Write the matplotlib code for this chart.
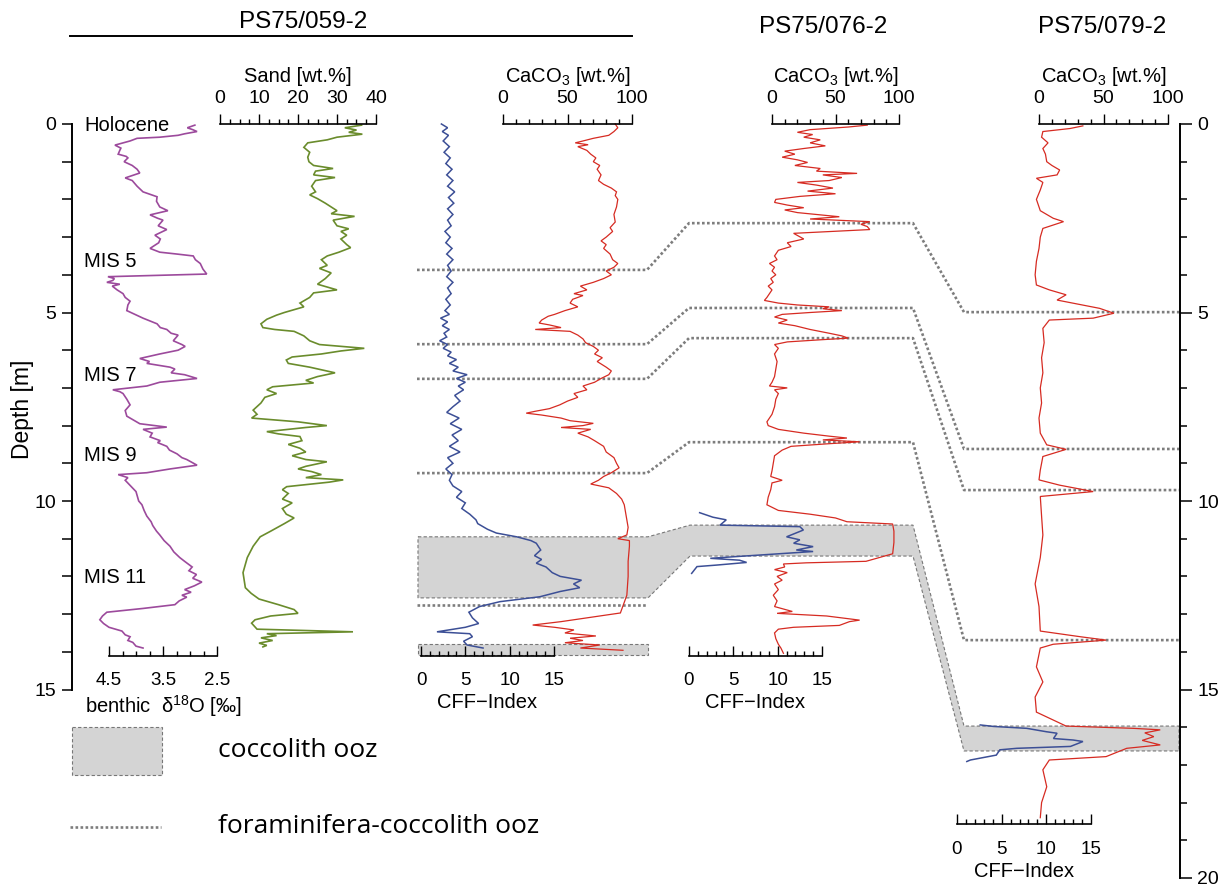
import matplotlib.pyplot as plt
from matplotlib.transforms import Affine2D

# PS75/059-2 benthic d18O (depth m, permil)
d18o = [(0.03, 2.91), (0.1, 3.05), (0.15, 2.95), (0.2, 2.87), (0.26, 3.1), (0.3, 3.22), (0.35, 3.56),
        (0.38, 3.98), (0.45, 4.11), (0.56, 4.39), (0.64, 4.28), (0.7, 4.3), (0.8, 4.33), (0.86, 4.18),
        (0.9, 4.15), (1.0, 4.22), (1.1, 4.07), (1.2, 3.98), (1.3, 3.93), (1.38, 4.1), (1.43, 4.2),
        (1.5, 4.07), (1.65, 3.98), (1.8, 3.87), (1.93, 3.61), (2.05, 3.62), (2.2, 3.56), (2.3, 3.41),
        (2.41, 3.74), (2.5, 3.6), (2.55, 3.5), (2.7, 3.59), (2.8, 3.43), (2.95, 3.65), (3.05, 3.55),
        (3.15, 3.58), (3.3, 3.74), (3.4, 3.56), (3.45, 3.24), (3.5, 2.94), (3.6, 2.9), (3.7, 2.81),
        (3.85, 2.76), (3.98, 2.69), (4.05, 4.52), (4.1, 4.4), (4.15, 4.43), (4.2, 4.54), (4.25, 4.3),
        (4.3, 4.44), (4.4, 4.35), (4.5, 4.24), (4.6, 4.2), (4.7, 4.11), (4.8, 4.15), (4.95, 4.17),
        (5.05, 4.02), (5.15, 3.87), (5.3, 3.61), (5.4, 3.55), (5.45, 3.43), (5.55, 3.35), (5.6, 3.22),
        (5.7, 3.28), (5.75, 3.31), (5.85, 3.15), (5.9, 3.09), (6.0, 3.22), (6.1, 3.56), (6.22, 3.93),
        (6.3, 3.75), (6.35, 3.8), (6.45, 3.37), (6.5, 3.28), (6.6, 3.35), (6.65, 3.1), (6.75, 2.87),
        (6.85, 3.56), (6.95, 3.8), (7.05, 4.43), (7.1, 4.3), (7.15, 4.24), (7.3, 4.17), (7.45, 4.11),
        (7.6, 4.2), (7.75, 4.17), (7.95, 3.93), (8.04, 3.43), (8.1, 3.87), (8.2, 3.7), (8.3, 3.74),
        (8.4, 3.55), (8.45, 3.6), (8.55, 3.43), (8.65, 3.38), (8.75, 3.24), (8.85, 3.15), (8.9, 3.06),
        (9.05, 2.87), (9.15, 3.37), (9.25, 3.8), (9.3, 4.33), (9.38, 4.15), (9.45, 4.2), (9.6, 4.1),
        (9.75, 4.0), (9.85, 3.98), (10.0, 3.95), (10.1, 3.89), (10.25, 3.85), (10.4, 3.8), (10.55, 3.72),
        (10.65, 3.69), (10.8, 3.62), (10.9, 3.56), (11.05, 3.48), (11.2, 3.37), (11.35, 3.3), (11.5, 3.19),
        (11.6, 3.1), (11.75, 2.96), (11.85, 3.02), (11.95, 2.88), (12.05, 2.95), (12.15, 2.78), (12.25, 2.92),
        (12.35, 3.1), (12.42, 2.98), (12.5, 3.15), (12.55, 3.06), (12.65, 3.2), (12.75, 3.28), (12.85, 3.87),
        (12.95, 4.54), (13.05, 4.62), (13.15, 4.67), (13.25, 4.6), (13.35, 4.5), (13.45, 4.26), (13.55, 4.2),
        (13.6, 4.11), (13.7, 4.15), (13.75, 4.06), (13.85, 4.0), (13.9, 3.87)]

# PS75/059-2 sand content (depth m, wt.%)
sand = [(0.03, 36.3), (0.1, 32), (0.16, 35), (0.22, 33), (0.27, 36.5), (0.35, 30), (0.42, 27.5), (0.5, 22.5),
        (0.62, 21.5), (0.75, 23), (0.88, 22.5), (1.0, 22.8), (1.1, 24), (1.18, 29), (1.25, 24.5), (1.35, 24),
        (1.42, 29.5), (1.5, 24.5), (1.65, 23.5), (1.8, 24.5), (1.88, 23), (1.98, 25), (2.1, 27), (2.2, 28.5),
        (2.3, 30), (2.38, 28.5), (2.45, 34.5), (2.55, 29), (2.7, 30), (2.78, 33), (2.85, 31), (2.95, 32.5),
        (3.05, 31), (3.2, 32.5), (3.28, 33.5), (3.4, 30.5), (3.5, 27.5), (3.6, 26), (3.75, 27.5), (3.83, 25.5),
        (3.95, 28.5), (4.1, 27), (4.25, 25), (4.4, 30), (4.48, 24), (4.6, 23), (4.75, 20.5), (4.85, 21.5),
        (5.0, 16.5), (5.07, 14.5), (5.18, 12), (5.3, 10.5), (5.4, 11), (5.45, 14), (5.5, 19), (5.62, 21.5),
        (5.75, 23), (5.85, 25.5), (5.95, 37), (6.02, 31), (6.1, 26), (6.18, 18.5), (6.26, 17), (6.35, 17.5),
        (6.45, 23), (6.6, 29.5), (6.7, 25), (6.8, 22), (6.87, 24), (6.97, 13.5), (7.05, 12), (7.15, 14.5),
        (7.25, 11.5), (7.4, 10.5), (7.59, 8.5), (7.7, 9.5), (7.8, 8.1), (7.9, 20), (8.0, 27.4), (8.05, 22),
        (8.16, 12), (8.22, 15), (8.29, 20.5), (8.4, 21), (8.5, 17.5), (8.6, 20.5), (8.7, 22), (8.8, 18.5),
        (8.9, 22), (8.96, 27.4), (9.08, 22), (9.15, 20), (9.22, 23.5), (9.3, 26), (9.38, 22), (9.44, 31.6),
        (9.5, 28), (9.62, 17.1), (9.7, 16), (9.8, 17.5), (9.95, 16), (10.05, 18.5), (10.2, 16), (10.35, 17),
        (10.45, 19), (10.6, 16.5), (10.8, 13), (10.95, 10.3), (11.2, 8.5), (11.5, 7), (11.9, 5.9), (12.1, 6.2),
        (12.3, 6.5), (12.45, 8), (12.6, 10), (12.75, 15), (12.88, 19), (12.98, 20), (13.05, 13), (13.15, 9),
        (13.24, 8.1), (13.4, 9.5), (13.47, 34.1), (13.52, 12), (13.57, 14.5), (13.63, 10.5), (13.7, 13.5),
        (13.77, 10), (13.83, 12), (13.87, 11)]

# PS75/059-2 CFF-Index
cff_059 = [(0.0, 2.3), (0.1, 3.0), (0.2, 2.4), (0.3, 3.1), (0.45, 2.5), (0.6, 3.2), (0.75, 2.6), (0.9, 3.3),
           (1.05, 2.8), (1.2, 3.5), (1.35, 2.9), (1.5, 3.6), (1.65, 3.0), (1.8, 3.8), (1.95, 3.1), (2.1, 3.7),
           (2.25, 3.0), (2.4, 3.6), (2.55, 3.0), (2.7, 3.4), (2.85, 2.7), (3.0, 3.3), (3.15, 2.8), (3.3, 3.5),
           (3.45, 2.9), (3.6, 3.6), (3.75, 3.0), (3.9, 3.4), (4.05, 2.9), (4.2, 3.6), (4.35, 3.0), (4.5, 3.4),
           (4.65, 2.8), (4.8, 3.3), (4.95, 2.7), (5.05, 3.2), (5.15, 2.2), (5.25, 3.0), (5.35, 2.4), (5.45, 3.2),
           (5.55, 2.6), (5.65, 2.9), (5.75, 2.1), (5.85, 3.0), (5.95, 2.5), (6.05, 3.4), (6.15, 3.0), (6.25, 4.0),
           (6.35, 3.2), (6.45, 4.2), (6.55, 3.6), (6.65, 5.2), (6.75, 4.0), (6.85, 5.0), (6.95, 4.2), (7.05, 4.8),
           (7.2, 3.8), (7.35, 4.4), (7.5, 3.6), (7.65, 2.9), (7.8, 4.3), (7.95, 3.3), (8.1, 4.6), (8.25, 3.5),
           (8.4, 4.2), (8.55, 3.2), (8.7, 4.4), (8.85, 3.0), (9.0, 3.6), (9.15, 2.8), (9.3, 3.5), (9.45, 3.2),
           (9.6, 3.6), (9.75, 4.6), (9.9, 4.0), (10.05, 5.0), (10.2, 4.6), (10.35, 5.5), (10.5, 6.2), (10.6, 6.4),
           (10.75, 7.5), (10.85, 8.5), (10.95, 10.8), (11.05, 12.4), (11.12, 13.0), (11.3, 13.5), (11.45, 12.8),
           (11.55, 13.6), (11.65, 13.0), (11.75, 14.1), (11.9, 14.8), (12.0, 15.7), (12.1, 18.1), (12.2, 17.2),
           (12.3, 17.9), (12.4, 15.7), (12.54, 13.4), (12.67, 8.9), (12.8, 6.6), (12.95, 5.4), (13.1, 5.8),
           (13.25, 6.5), (13.35, 5.0), (13.47, 1.8), (13.52, 5.5), (13.6, 5.8), (13.72, 4.8), (13.82, 5.2),
           (13.9, 7.0)]

# PS75/059-2 CaCO3 (wt.%)
caco3_059 = [(0.0, 87), (0.1, 89), (0.2, 86), (0.3, 82), (0.38, 70), (0.45, 62), (0.5, 56), (0.55, 66),
             (0.6, 58), (0.7, 65), (0.8, 68), (0.9, 72), (1.0, 70), (1.1, 75), (1.2, 73), (1.35, 76),
             (1.5, 74), (1.6, 78), (1.7, 84), (1.8, 88), (1.9, 87), (2.0, 89), (2.2, 88), (2.4, 86),
             (2.6, 87), (2.75, 83), (2.85, 85), (3.0, 80), (3.1, 76), (3.2, 80), (3.3, 78), (3.45, 83),
             (3.6, 85), (3.7, 89), (3.8, 86), (3.9, 80), (4.0, 84), (4.1, 78), (4.2, 70), (4.3, 60),
             (4.4, 65), (4.5, 55), (4.55, 62), (4.65, 54), (4.75, 52), (4.85, 58), (4.95, 48), (5.05, 40),
             (5.1, 35), (5.2, 30), (5.28, 28), (5.33, 36), (5.4, 45), (5.45, 25), (5.5, 52), (5.6, 58),
             (5.7, 62), (5.8, 64), (5.9, 70), (6.0, 74), (6.1, 71), (6.2, 77), (6.3, 73), (6.45, 80),
             (6.55, 84), (6.65, 82), (6.75, 76), (6.85, 71), (6.95, 62), (7.05, 65), (7.15, 55), (7.25, 58),
             (7.35, 50), (7.45, 44), (7.55, 36), (7.62, 25), (7.67, 18), (7.72, 30), (7.8, 45), (7.87, 52),
             (7.94, 70), (8.0, 62), (8.05, 45), (8.1, 68), (8.2, 58), (8.3, 66), (8.4, 71), (8.55, 78),
             (8.7, 80), (8.85, 86), (9.0, 88), (9.12, 90), (9.25, 84), (9.35, 78), (9.45, 74), (9.55, 68),
             (9.65, 82), (9.8, 88), (9.95, 92), (10.1, 94), (10.3, 95), (10.5, 96), (10.7, 97), (10.9, 96),
             (11.0, 89), (11.05, 98), (11.2, 98), (11.6, 97), (12.0, 97), (12.5, 96), (12.97, 91), (13.1, 65),
             (13.2, 45), (13.29, 23), (13.35, 40), (13.42, 55), (13.5, 48), (13.58, 72), (13.64, 52),
             (13.7, 62), (13.76, 48), (13.82, 75), (13.9, 60), (13.96, 93)]

# PS75/076-2 CaCO3 (wt.%) and CFF-Index
caco3_076 = [(0.03, 75), (0.08, 60), (0.15, 30), (0.22, 20), (0.28, 32), (0.35, 25), (0.42, 38), (0.5, 30),
             (0.58, 42), (0.65, 25), (0.72, 10), (0.8, 18), (0.88, 8), (0.95, 20), (1.02, 28), (1.1, 18),
             (1.18, 38), (1.25, 35), (1.31, 67), (1.35, 40), (1.42, 55), (1.5, 45), (1.55, 20), (1.62, 35),
             (1.7, 48), (1.78, 28), (1.85, 50), (1.92, 22), (2.0, 3), (2.08, 2), (2.15, 12), (2.22, 25),
             (2.28, 10), (2.35, 20), (2.46, 53), (2.52, 30), (2.59, 77), (2.66, 70), (2.72, 75), (2.8, 77),
             (2.86, 40), (2.9, 17), (3.05, 25), (3.15, 12), (3.25, 15), (3.35, 5), (3.5, 2), (3.6, 4),
             (3.7, -2), (3.8, 2), (3.9, 0), (4.0, 3), (4.1, -1), (4.2, 1), (4.3, -3), (4.4, 0), (4.5, -2),
             (4.6, -4), (4.68, -6), (4.75, 5), (4.8, 20), (4.85, 45), (4.9, 40), (4.95, 55), (5.0, 30),
             (5.05, 8), (5.12, 2), (5.2, 12), (5.28, 5), (5.35, 18), (5.45, 30), (5.55, 45), (5.62, 55),
             (5.68, 60), (5.72, 40), (5.78, 12), (5.85, 2), (5.95, 5), (6.1, 2), (6.3, 4), (6.5, 3), (6.7, 2),
             (6.85, 0), (6.95, -2), (7.0, 12), (7.05, 2), (7.15, 5), (7.3, 3), (7.5, 2), (7.7, 0), (7.9, -4),
             (8.0, -3), (8.1, 5), (8.2, 25), (8.28, 45), (8.33, 59), (8.38, 40), (8.43, 69), (8.48, 45),
             (8.55, 15), (8.65, 8), (8.8, 2), (9.0, 1), (9.2, 0), (9.35, -1), (9.45, 8), (9.52, 0),
             (9.7, -1), (9.9, -3), (10.1, -4), (10.25, 5), (10.35, 30), (10.45, 50), (10.55, 59), (10.61, 95),
             (10.8, 96), (11.1, 96), (11.4, 95), (11.6, 74), (11.64, 27), (11.67, 9), (11.75, 10), (11.82, 2),
             (11.9, 12), (12.0, 4), (12.1, 8), (12.2, 2), (12.35, 5), (12.5, 1), (12.65, 4), (12.8, 2),
             (12.93, 16), (12.98, 4), (13.05, 43), (13.16, 69), (13.2, 61), (13.3, 53), (13.35, 17), (13.4, 5),
             (13.5, 2), (13.65, 3), (13.8, 5), (13.9, 7), (14.04, 9)]
cff_076 = [(10.31, 1.2), (10.43, 2.7), (10.5, 4.2), (10.64, 3.5), (10.68, 12.5), (10.77, 12.9), (10.95, 11.0),
           (11.03, 12.5), (11.12, 11.8), (11.21, 14.0), (11.3, 12.1), (11.34, 14.0), (11.52, 2.4), (11.57, 5.7),
           (11.63, 6.5), (11.7, 3.1), (11.74, 0.9), (11.92, 0.3)]

# PS75/079-2 CaCO3 (wt.%) and CFF-Index
caco3_079 = [(0.05, 34), (0.12, 24), (0.2, 3), (0.35, 2), (0.5, 7), (0.65, 3), (0.8, 5), (1.0, 6),
             (1.1, 10), (1.22, 16), (1.35, 14), (1.44, -2), (1.55, 3), (1.75, 1), (2.0, -2), (2.3, 1),
             (2.5, 11), (2.59, 19), (2.77, 3), (3.0, 1), (3.3, 0), (3.64, -2), (4.0, -3), (4.27, -2),
             (4.4, 8), (4.53, 21), (4.67, 14), (4.75, 26), (4.89, 47), (5.02, 58), (5.15, 42), (5.2, 8),
             (5.42, 3), (5.8, 4), (6.2, 2), (6.6, 3), (7.0, 1), (7.4, 2), (7.8, 0), (8.2, 1), (8.51, 6),
             (8.63, 21), (8.82, 3), (9.18, 1), (9.44, 0), (9.58, 16), (9.75, 42), (9.88, 1), (10.4, 2),
             (10.9, 3), (11.5, 1), (12.2, -3), (12.8, 0), (13.45, 1), (13.6, 32), (13.69, 52), (13.8, 11),
             (13.9, 1), (14.4, -2), (14.8, 3), (15.2, -3), (15.6, -2), (15.97, 21), (16.03, 73), (16.07, 94),
             (16.15, 82), (16.25, 89), (16.35, 80), (16.47, 94), (16.56, 68), (16.78, 52), (16.87, 8),
             (17.13, 3), (17.58, 6), (18.0, 2), (18.4, 1)]
cff_079 = [(15.94, 2.6), (15.98, 4.1), (16.03, 7.8), (16.12, 10.0), (16.16, 11.2), (16.3, 10.8), (16.34, 13.0),
           (16.38, 14.1), (16.51, 12.7), (16.56, 6.7), (16.6, 4.8), (16.74, 4.4), (16.87, 1.5), (16.91, 1.1)]

# coccolith ooz intervals (top, bottom) in m
cocco_059 = [(10.95, 12.57), (13.80, 14.08)]
cocco_076 = (10.64, 11.46)
cocco_079 = (15.97, 16.63)

# foraminifera-coccolith ooz layers, correlated between the cores (m)
foram_059 = [3.87, 5.84, 6.76, 9.26, 12.76]
foram_076 = [2.63, 4.88, 5.68, 8.44]
foram_079 = [4.99, 8.62, 9.71, 13.69]

stages = [("Holocene", 0.03), ("MIS 5", 3.66), ("MIS 7", 6.68), ("MIS 9", 8.78), ("MIS 11", 12.04)]

PURPLE, GREEN, BLUE, RED = "#9c4a9c", "#6a8c2c", "#3c4f96", "#d62b22"
OOZ_FILL, OOZ_EDGE, TIE = "#d4d4d4", "#777777", "#7d7d7d"

plt.rcParams["font.family"] = "Liberation Sans"
plt.rcParams["mathtext.fontset"] = "custom"
plt.rcParams["mathtext.rm"] = "Liberation Sans"
plt.rcParams["mathtext.it"] = "Liberation Sans:italic"
plt.rcParams["mathtext.bf"] = "Liberation Sans:bold"

W, H = 1227, 886
TOP, BOT = 124, 878          # pixel rows of 0 m and 20 m
fig = plt.figure(figsize=(W / 100, H / 100), dpi=100)
pix = Affine2D().scale(1 / W, -1 / H).translate(0, 1) + fig.transFigure


def strip(x0, x1):
    ax = fig.add_axes([x0 / W, 1 - BOT / H, (x1 - x0) / W, (BOT - TOP) / H])
    ax.set_ylim(20, 0)
    ax.patch.set_visible(False)
    for s in ax.spines.values():
        s.set_visible(False)
    return ax


def panel(x0, x1, lim, side, depth, major, minor, label, labelpad):
    ax = strip(x0, x1)
    ax.set_xlim(*lim)
    ax.set_yticks([])
    sp = ax.spines[side]
    sp.set_visible(True)
    sp.set_position(("data", depth))
    sp.set_bounds(min(lim), max(lim))
    sp.set_linewidth(1.2)
    ax.xaxis.set_ticks_position(side)
    ax.xaxis.set_label_position(side)
    ax.set_xticks(major)
    ax.set_xticks(minor, minor=True)
    if side == "top":
        ax.tick_params(axis="x", which="major", direction="out", length=7, width=1, labelsize=14, pad=5)
        ax.tick_params(axis="x", which="minor", direction="out", length=3.5, width=1)
    else:
        ax.tick_params(axis="x", which="major", direction="in", length=7, width=1, labelsize=13.5, pad=12)
        ax.tick_params(axis="x", which="minor", direction="in", length=3.5, width=1)
    ax.set_xlabel(label, fontsize=14.5, labelpad=labelpad)
    return ax


def curve(ax, series, color, lw):
    d = [p[0] for p in series]
    v = [p[1] for p in series]
    ax.plot(v, d, color=color, lw=lw, clip_on=False, solid_joinstyle="miter")


# background strip for ooz intervals and tie lines, x in pixel columns
base = strip(0, W)
base.set_xlim(0, W)
base.set_xticks([])
base.set_yticks([])

xs = [418, 648, 690, 913, 964, 1179]
band_top = [cocco_059[0][0], cocco_059[0][0], cocco_076[0], cocco_076[0], cocco_079[0], cocco_079[0]]
band_bot = [cocco_059[0][1], cocco_059[0][1], cocco_076[1], cocco_076[1], cocco_079[1], cocco_079[1]]
base.fill(xs + xs[::-1], band_top + band_bot[::-1], fc=OOZ_FILL, ec=OOZ_EDGE, lw=0.8, ls=(0, (3, 2)))
t, b = cocco_059[1]
base.fill([418, 648, 648, 418], [t, t, b, b], fc=OOZ_FILL, ec=OOZ_EDGE, lw=0.8, ls=(0, (3, 2)))

tie_x = [417, 647, 689, 913, 964, 1179]
for a, m, c in zip(foram_059, foram_076, foram_079):
    base.plot(tie_x, [a, a, m, m, c, c], color=TIE, lw=1.9, ls=(0, (1, 0.9)))
base.plot(tie_x[:2], [foram_059[4]] * 2, color=TIE, lw=1.9, ls=(0, (1, 0.9)))

for name, d in stages:
    base.text(84, d, name, fontsize=14.5, va="center", ha="left")

# depth axes
left = strip(72, 73)
left.set_xticks([])
left.spines["left"].set_visible(True)
left.spines["left"].set_bounds(0, 15)
left.spines["left"].set_linewidth(1.4)
left.set_yticks([0, 5, 10, 15])
left.set_yticks(range(16), minor=True)
left.tick_params(axis="y", which="both", length=7.5, width=1.1, labelsize=14, pad=4)
fig.text(22, 409, "Depth [m]", transform=pix, fontsize=16.5, rotation=90, ha="center", va="center")

right = strip(1179, 1180)
right.set_xticks([])
right.spines["right"].set_visible(True)
right.spines["right"].set_bounds(0, 20)
right.spines["right"].set_linewidth(1.4)
right.yaxis.set_ticks_position("right")
right.set_yticks([0, 5, 10, 15, 20])
right.set_yticks(range(21), minor=True)
right.tick_params(axis="y", which="major", length=8.5, width=1.1, labelsize=14, pad=4)
right.tick_params(axis="y", which="minor", length=5, width=1.1)

# PS75/059-2
ax = panel(109, 217, (4.5, 2.5), "bottom", 14.1, [4.5, 3.5, 2.5], [4.25, 4.0, 3.75, 3.25, 3.0, 2.75],
           "benthic  δ$^{18}$O [‰]", 3)
curve(ax, d18o, PURPLE, 1.2)
ax = panel(220, 376, (0, 40), "top", 0, [0, 10, 20, 30, 40], [2.5 * i for i in range(17)], "Sand [wt.%]", 6)
curve(ax, sand, GREEN, 1.2)
ax = panel(421, 554, (0, 15), "bottom", 14.1, [0, 5, 10, 15], range(16), "CFF−Index", 3)
curve(ax, cff_059, BLUE, 1.1)
ax = panel(503, 632, (0, 100), "top", 0, [0, 50, 100], range(0, 101, 10), "CaCO$_3$ [wt.%]", 6)
curve(ax, caco3_059, RED, 0.9)

# PS75/076-2
ax = panel(772, 899, (0, 100), "top", 0, [0, 50, 100], range(0, 101, 10), "CaCO$_3$ [wt.%]", 6)
curve(ax, caco3_076, RED, 0.9)
ax = panel(689, 822, (0, 15), "bottom", 14.1, [0, 5, 10, 15], range(16), "CFF−Index", 3)
curve(ax, cff_076, BLUE, 1.1)

# PS75/079-2
ax = panel(1039, 1168, (0, 100), "top", 0, [0, 50, 100], range(0, 101, 10), "CaCO$_3$ [wt.%]", 6)
curve(ax, caco3_079, RED, 0.9)
ax = panel(957, 1091, (0, 15), "bottom", 18.57, [0, 5, 10, 15], range(16), "CFF−Index", 3)
curve(ax, cff_079, BLUE, 1.1)

# core names
fig.text(303, 22, "PS75/059-2", transform=pix, fontsize=17.5, ha="center", va="center")
fig.add_artist(plt.Line2D([70, 632], [36, 36], transform=pix, color="k", lw=1.4))
fig.text(823, 27, "PS75/076-2", transform=pix, fontsize=17.5, ha="center", va="center")
fig.text(1102, 27, "PS75/079-2", transform=pix, fontsize=17.5, ha="center", va="center")

# legend
fig.add_artist(plt.Rectangle((72, 727), 90, 48, transform=pix, fc=OOZ_FILL, ec=OOZ_EDGE, lw=0.8,
                             ls=(0, (3, 2))))
fig.text(218, 751, "coccolith ooz", transform=pix, fontsize=19, family="Open Sans", va="center")
fig.add_artist(plt.Line2D([70, 161], [827, 827], transform=pix, color=TIE, lw=1.9, ls=(0, (1, 0.9))))
fig.text(218, 827, "foraminifera-coccolith ooz", transform=pix, fontsize=19, family="Open Sans", va="center")

fig.savefig("out.png", dpi=100)
